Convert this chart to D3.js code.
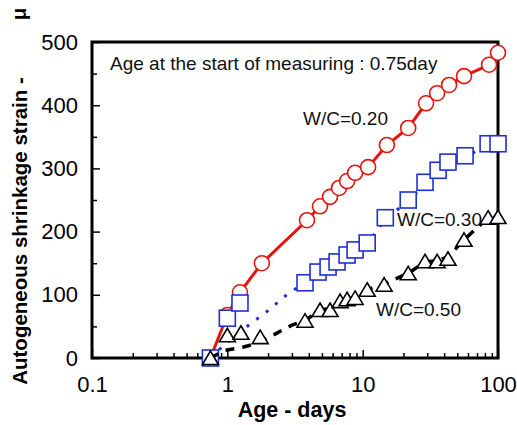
<!DOCTYPE html>
<html>
<head>
<meta charset="utf-8">
<script src="https://cdn.jsdelivr.net/npm/d3@7"></script>
<style>
  body { margin: 0; background: #fff; }
  text { font-family: "Liberation Sans", Arial, sans-serif; }
</style>
</head>
<body>
<script>
'use strict';

let ages20 = [0.75, 1.0, 1.24, 1.8, 3.88, 4.84, 5.74, 6.69, 7.67, 8.79, 10.97, 15.1, 21.7, 29.4, 35.5, 43.5, 56.1, 85.9, 100];
let strain20 = [0, 68, 104, 150, 218, 240, 255, 269, 280, 293, 302, 337, 364, 403, 419, 432, 446, 464, 483];

let ages30 = [0.75, 1.0, 1.24, 3.75, 4.68, 5.55, 6.47, 7.67, 8.79, 10.8, 14.7, 21.7, 28.9, 36.1, 42.7, 57.1, 84.5, 100];
let strain30 = [0, 63, 87, 119, 136, 144, 152, 163, 171, 182, 222, 250, 278, 297, 310, 320, 339, 339];

let ages50 = [0.75, 1.0, 1.26, 1.75, 3.75, 4.84, 5.74, 6.81, 7.67, 8.79, 10.8, 14.4, 21.7, 28.9, 35.5, 42.7, 56.1, 84.5, 100];
let strain50 = [0, 36, 40, 33, 59, 76, 76, 90, 93, 95, 108, 116, 134, 153, 153, 157, 187, 222, 223];

// continuous records drawn as lines (W/C=0.30 and 0.50 run apart from the markers early on)
let curveAges30 = [0.75, 0.93, 1.42, 2.0, 2.81, 3.75, 4.68, 5.55, 6.47, 7.67, 8.79, 10.8, 14.7, 21.7, 28.9, 36.1, 42.7, 57.1, 84.5, 100];
let curveStrain30 = [0, 19, 51, 75, 102, 119, 134, 142, 150, 160, 168, 180, 220, 248, 276, 295, 308, 318, 337, 338];

let curveAges50 = [0.75, 0.95, 1.3, 1.7, 2.0, 2.5, 3.0, 3.75, 4.84, 5.74, 6.81, 7.67, 8.79, 10.8, 14.4, 21.7, 28.9, 35.5, 42.7, 56.1, 84.5, 100];
let curveStrain50 = [0, 12, 17, 24, 32, 43, 52, 59, 76, 78, 90, 93, 96, 108, 117, 134, 152, 154, 160, 187, 222, 223];

let xTicks = [0.1, 1, 10, 100];
let yTicks = [0, 100, 200, 300, 400, 500];

let labels = [
  { text: 'Age at the start of measuring : 0.75day', x: 110, y: 70 },
  { text: 'W/C=0.20', x: 303, y: 125 },
  { text: 'W/C=0.30', x: 397, y: 226 },
  { text: 'W/C=0.50', x: 376, y: 316 }
];

(function() {

  let svg = '';
  let x = '';
  let y = '';

  window.onload = function() {
    svg = d3.select('body')
      .append('svg')
      .attr('width', 517)
      .attr('height', 425);

    x = d3.scaleLog().domain([0.1, 100]).range([92, 498]);
    y = d3.scaleLinear().domain([0, 500]).range([358, 42]);

    drawAxes();
    drawSeries();
    drawLabels();
  }

  function zip(a, b) {
    return a.map((v, i) => ({ x: v, y: b[i] }));
  }

  function drawAxes() {
    // minor ticks on the log axis
    let minor = [];
    for (let d = 0.1; d < 100; d *= 10) {
      for (let k = 2; k <= 9; k++) minor.push(+(d * k).toFixed(3));
    }

    svg.append('g')
      .attr('transform', 'translate(0,358)')
      .call(d3.axisBottom(x).tickValues(minor).tickSize(-5).tickFormat(''))
      .call(g => g.select('.domain').remove())
      .call(g => g.selectAll('line').attr('stroke-width', 1.5));

    svg.append('g')
      .attr('transform', 'translate(0,358)')
      .call(d3.axisBottom(x).tickValues(xTicks).tickSize(-8).tickPadding(18).tickFormat(d3.format('')))
      .call(g => g.select('.domain').remove())
      .call(g => g.selectAll('line').attr('stroke-width', 1.5))
      .call(g => g.selectAll('text')
        .style('font-size', '22px')
        .attr('fill', '#000')
        .attr('font-family', '"Liberation Sans", Arial, sans-serif'));

    svg.append('g')
      .attr('transform', 'translate(92,0)')
      .call(d3.axisLeft(y).tickValues(d3.range(50, 500, 100)).tickSize(-5).tickFormat(''))
      .call(g => g.select('.domain').remove())
      .call(g => g.selectAll('line').attr('stroke-width', 1.5));

    svg.append('g')
      .attr('transform', 'translate(92,0)')
      .call(d3.axisLeft(y).tickValues(yTicks).tickSize(-8).tickPadding(14))
      .call(g => g.select('.domain').remove())
      .call(g => g.selectAll('line').attr('stroke-width', 1.5))
      .call(g => g.selectAll('text')
        .style('font-size', '22px')
        .attr('fill', '#000')
        .attr('font-family', '"Liberation Sans", Arial, sans-serif'));

    svg.append('rect')
      .attr('x', x(0.1))
      .attr('y', y(500))
      .attr('width', x(100) - x(0.1))
      .attr('height', y(0) - y(500))
      .attr('fill', 'none')
      .attr('stroke', '#000')
      .attr('stroke-width', 3);

    svg.append('text')
      .attr('x', 292)
      .attr('y', 417)
      .attr('text-anchor', 'middle')
      .style('font-size', '21.5px')
      .style('font-weight', 'bold')
      .text('Age - days');

    svg.append('text')
      .attr('transform', 'translate(27, 231)rotate(-90)')
      .attr('text-anchor', 'middle')
      .style('font-size', '20.5px')
      .style('font-weight', 'bold')
      .text('Autogeneous shrinkage strain -');

    svg.append('text')
      .attr('transform', 'translate(26, 14)rotate(-90)')
      .attr('text-anchor', 'middle')
      .style('font-size', '20.5px')
      .style('font-weight', 'bold')
      .text('\u03bc');
  }

  function drawSeries() {
    let line = d3.line()
      .x((d) => x(d.x))
      .y((d) => y(d.y));

    // W/C = 0.20
    svg.append('path')
      .datum(zip(ages20, strain20))
      .attr('fill', 'none')
      .attr('stroke', '#e8120c')
      .attr('stroke-width', 3)
      .attr('d', line);

    svg.selectAll('.c20')
      .data(zip(ages20, strain20))
      .enter()
      .append('circle')
        .attr('cx', (d) => x(d.x))
        .attr('cy', (d) => y(d.y))
        .attr('r', 7.5)
        .attr('fill', '#fff')
        .attr('stroke', '#e8120c')
        .attr('stroke-width', 1.6);

    // W/C = 0.30
    svg.append('path')
      .datum(zip(curveAges30, curveStrain30))
      .attr('fill', 'none')
      .attr('stroke', '#1f2fd6')
      .attr('stroke-width', 3)
      .attr('stroke-dasharray', '3,9')
      .attr('d', line);

    svg.selectAll('.s30')
      .data(zip(ages30, strain30))
      .enter()
      .append('rect')
        .attr('x', (d) => x(d.x) - 8)
        .attr('y', (d) => y(d.y) - 8)
        .attr('width', 16)
        .attr('height', 16)
        .attr('fill', '#fff')
        .attr('stroke', '#1f2fd6')
        .attr('stroke-width', 1.6);

    // W/C = 0.50
    svg.append('path')
      .datum(zip(curveAges50, curveStrain50))
      .attr('fill', 'none')
      .attr('stroke', '#000')
      .attr('stroke-width', 3.5)
      .attr('stroke-dasharray', '9,8')
      .attr('d', line);

    svg.selectAll('.t50')
      .data(zip(ages50, strain50))
      .enter()
      .append('path')
        .attr('transform', (d) => 'translate(' + x(d.x) + ',' + y(d.y) + ')')
        .attr('d', 'M0,-7L8,6.5L-8,6.5Z')
        .attr('fill', '#fff')
        .attr('stroke', '#000')
        .attr('stroke-width', 1.6);
  }

  function drawLabels() {
    svg.selectAll('.lbl')
      .data(labels)
      .enter()
      .append('text')
        .attr('x', (d) => d.x)
        .attr('y', (d) => d.y)
        .style('font-size', '19px')
        .attr('fill', '#111')
        .text((d) => d.text);
  }

})();
</script>
</body>
</html>
